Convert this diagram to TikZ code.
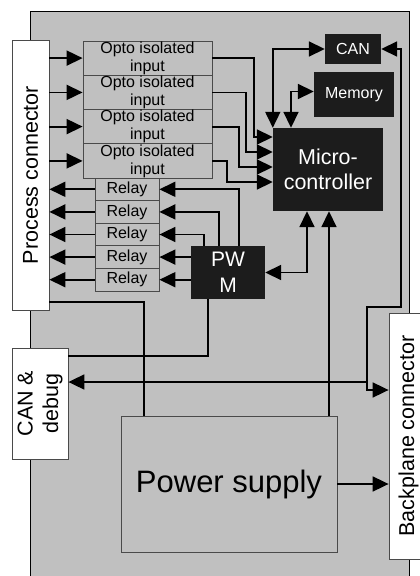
\documentclass[tikz,border=0pt]{standalone}
\usepackage{fontspec}
\setmainfont{Liberation Sans}
\usetikzlibrary{arrows.meta}
\definecolor{boardgray}{HTML}{C0C0C0}
\definecolor{chipblack}{HTML}{1C1C1C}
\definecolor{edgegray}{HTML}{4A4A4A}

\begin{document}
\begin{tikzpicture}[x=1pt,y=-1pt,>={Triangle[length=16pt,width=15pt]},
 wire/.style={line width=1.8pt,black},
 conn/.style={draw=edgegray,fill=white,line width=0.8pt,inner sep=0pt},
 block/.style={draw=edgegray,fill=boardgray,line width=0.8pt,inner sep=0pt},
 chip/.style={fill=chipblack,text=white,inner sep=0pt,align=center},
 small/.style={font=\fontsize{16}{18}\selectfont},
 mid/.style={font=\fontsize{21.5}{25.5}\selectfont},
 opto/.style={block,minimum width=129pt,minimum height=34.25pt,
   label={[small,align=center,inner sep=0pt]center:Opto isolated\\input}},
 relay/.style={block,small,minimum width=64pt,minimum height=22.6pt}]
\clip (0,0) rectangle (420,576);
\draw[fill=boardgray,line width=0.8pt] (30,11) rectangle (409,600);
% connectors
\node[conn,minimum width=37pt,minimum height=270pt,
  label={[mid,rotate=90,inner sep=0pt]center:Process connector}] (pc) at (30.5,175) {};
\node[conn,minimum width=56pt,minimum height=111pt,
  label={[mid,rotate=90,align=center,inner sep=0pt]center:CAN \&\\debug}] (dbg) at (40,403.5) {};
\node[conn,minimum width=39pt,minimum height=246pt,
  label={[mid,rotate=90,inner sep=0pt]center:Backplane connector}] (bp) at (408.5,436) {};
% inputs and relays
\node[opto] (o1) at (147.5,58.1) {};
\node[opto] (o2) at (147.5,92.4) {};
\node[opto] (o3) at (147.5,126.6) {};
\node[opto] (o4) at (147.5,160.9) {};
\node[relay] (r1) at (127,189.3) {Relay};
\node[relay] (r2) at (127,211.9) {Relay};
\node[relay] (r3) at (127,234.5) {Relay};
\node[relay] (r4) at (127,257.1) {Relay};
\node[relay] (r5) at (127,279.7) {Relay};
% chips
\node[chip,small,minimum width=56pt,minimum height=30pt] (can) at (353,49) {CAN};
\node[chip,small,minimum width=80pt,minimum height=45pt] (mem) at (354,94.5) {Memory};
\node[chip,mid,minimum width=110pt,minimum height=83pt] (mcu) at (328,169.5) {Micro-\\controller};
\node[chip,font=\fontsize{21}{26}\selectfont,minimum width=74pt,minimum height=53pt] (pwm) at (228,272.5) {PW\\M};
\node[block,font=\fontsize{31}{36}\selectfont,minimum width=216pt,minimum height=136pt] (psu) at (229,484) {Power supply};
% process connector wires
\draw[wire,->] (pc.east |- o1.west) -- (o1.west);
\draw[wire,->] (pc.east |- o2.west) -- (o2.west);
\draw[wire,->] (pc.east |- o3.west) -- (o3.west);
\draw[wire,->] (pc.east |- o4.west) -- (o4.west);
\draw[wire,->] (r1.west) -- (pc.east |- r1.west);
\draw[wire,->] (r2.west) -- (pc.east |- r2.west);
\draw[wire,->] (r3.west) -- (pc.east |- r3.west);
\draw[wire,->] (r4.west) -- (pc.east |- r4.west);
\draw[wire,->] (r5.west) -- (pc.east |- r5.west);
% inputs to micro
\draw[wire,->] (o1.east) -| (254,137) -- (mcu.west |- 0,137);
\draw[wire,->] (o2.east) -| (246,152) -- (mcu.west |- 0,152);
\draw[wire,->] (o3.east) -| (239,167) -- (mcu.west |- 0,167);
\draw[wire,->] (o4.east) -| (227,182) -- (mcu.west |- 0,182);
% pwm to relays
\draw[wire,->] (pwm.north -| 239,0) |- (r1.east);
\draw[wire,->] (pwm.north -| 219,0) |- (r2.east);
\draw[wire,->] (pwm.north -| 204,0) |- (r3.east);
\draw[wire,->] (pwm.west |- r4.east) -- (r4.east);
\draw[wire,->] (pwm.west |- r5.east) -- (r5.east);
% micro links
\draw[wire,<->] (mcu.north west) |- (can.west);
\draw[wire,<->] (mcu.north -| 291,0) |- ([yshift=3pt]mem.west);
\draw[wire,<->] (pwm.east) -| (mcu.south -| 307,0);
\draw[wire,->] (psu.north -| 329,0) -- (mcu.south -| 329,0);
% bus and supply
\draw[wire,<->] (can.east) -| (401,307) -| (367,390) -- (bp.west |- 0,390);
\draw[wire,->] (367,382) -- (dbg.east |- 0,382);
\draw[wire] (pwm.south -| 208,0) |- (dbg.east |- 0,356);
\draw[wire] (pc.east |- 0,302) -| (psu.north -| 144,0);
\draw[wire,->] (psu.east) -- (bp.west |- psu.east);
\end{tikzpicture}
\end{document}
